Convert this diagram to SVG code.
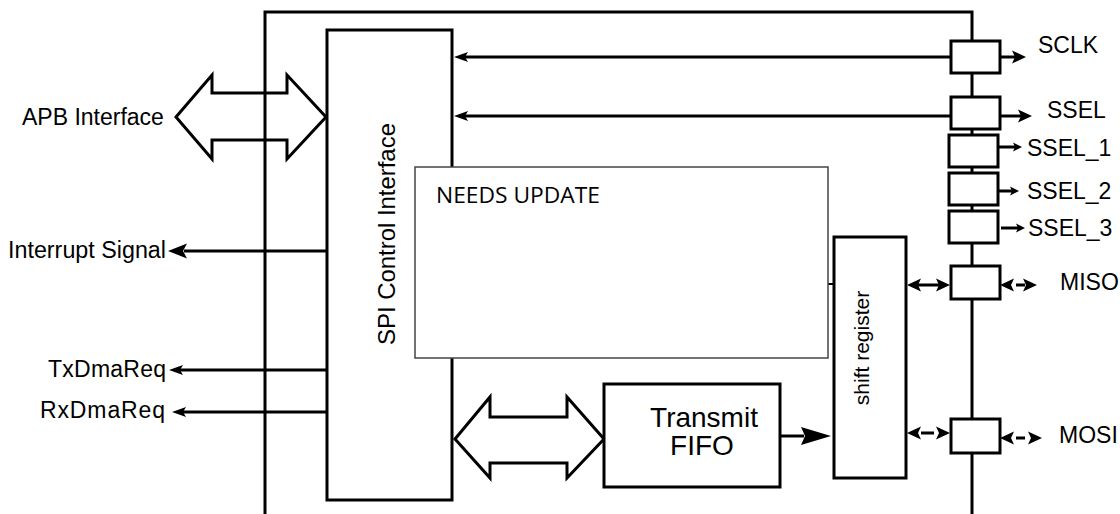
<svg xmlns="http://www.w3.org/2000/svg" width="1120" height="514" viewBox="0 0 1120 514">
<style>
.ln{stroke:#000;stroke-width:3;fill:none}
.box{stroke:#000;stroke-width:3;fill:#fff}
.lbl{font-family:"Liberation Sans",Arial,sans-serif;font-size:23px;fill:#000}
</style>
<defs>
<marker id="m-lg" markerUnits="userSpaceOnUse" markerWidth="30" markerHeight="18" refX="3" refY="9" orient="auto-start-reverse" overflow="visible"><path d="M0,0 L30,9 L0,18 L4,9 z"/></marker>
<marker id="m-int" markerUnits="userSpaceOnUse" markerWidth="19" markerHeight="15" refX="3" refY="7.5" orient="auto-start-reverse" overflow="visible"><path d="M0,0 L19,7.5 L0,15 L4,7.5 z"/></marker>
<marker id="m-md" markerUnits="userSpaceOnUse" markerWidth="14" markerHeight="13" refX="3" refY="6.5" orient="auto-start-reverse" overflow="visible"><path d="M0,0 L14,6.5 L0,13 L3,6.5 z"/></marker>
<marker id="m-sm" markerUnits="userSpaceOnUse" markerWidth="14" markerHeight="10" refX="3" refY="5" orient="auto-start-reverse" overflow="visible"><path d="M0,0 L14,5 L0,10 L3,5 z"/></marker>
<marker id="m-xs" markerUnits="userSpaceOnUse" markerWidth="9" markerHeight="9" refX="2" refY="4.5" orient="auto-start-reverse" overflow="visible"><path d="M0,0 L9,4.5 L0,9 L2,4.5 z"/></marker>
</defs>

<g id="frame">
<polyline class="ln" points="265,514 265,12 972,12 972,514"/>
</g>

<g id="connectors">
<line class="ln" x1="951" y1="57" x2="465" y2="57" marker-end="url(#m-sm)"/>
<line class="ln" x1="951" y1="116" x2="465" y2="116" marker-end="url(#m-sm)"/>
<line class="ln" x1="1000" y1="57" x2="1015" y2="57" marker-end="url(#m-md)"/>
<line class="ln" x1="1000" y1="116" x2="1021" y2="116" marker-end="url(#m-md)"/>
<line class="ln" x1="998" y1="147" x2="1015" y2="147" marker-end="url(#m-xs)"/>
<line class="ln" x1="998" y1="191" x2="1012" y2="191" marker-end="url(#m-xs)"/>
<line class="ln" x1="1001" y1="228" x2="1018" y2="228" marker-end="url(#m-xs)"/>
<line class="ln" x1="918" y1="285" x2="939" y2="285" marker-start="url(#m-md)" marker-end="url(#m-md)"/>
<line class="ln" x1="1011" y1="285" x2="1026" y2="285" stroke-dasharray="0,5,9,100" marker-start="url(#m-md)" marker-end="url(#m-md)"/>
<line class="ln" x1="918" y1="433" x2="939" y2="433" stroke-dasharray="0,3,13,100" marker-start="url(#m-md)" marker-end="url(#m-md)"/>
<line class="ln" x1="1011" y1="438" x2="1031" y2="438" stroke-dasharray="0,5,9,100" marker-start="url(#m-md)" marker-end="url(#m-md)"/>
<line class="ln" x1="326" y1="251" x2="184" y2="251" marker-end="url(#m-int)"/>
<line class="ln" x1="326" y1="370" x2="180" y2="370" marker-end="url(#m-sm)"/>
<line class="ln" x1="326" y1="412" x2="183" y2="412" marker-end="url(#m-sm)"/>
<line class="ln" x1="780" y1="436" x2="804" y2="436" marker-end="url(#m-lg)"/>
<line class="ln" x1="828" y1="284" x2="834" y2="284" style="stroke-width:2"/>
<polygon class="ln" points="176,117 212,75 212,93 287,93 287,75 326,117 287,159 287,140 212,140 212,159"/>
<polygon class="ln" points="455,439 490,397 490,417 567,417 567,397 604,439 567,478 567,463 490,463 490,478"/>
</g>

<g id="apb-label"><text class="lbl" x="22" y="125">APB Interface</text></g>
<g id="irq-label"><text class="lbl" x="8" y="258" textLength="158" lengthAdjust="spacingAndGlyphs">Interrupt Signal</text></g>
<g id="tx-label"><text class="lbl" x="48" y="377" textLength="118" lengthAdjust="spacing">TxDmaReq</text></g>
<g id="rx-label"><text class="lbl" x="40" y="418" textLength="125" lengthAdjust="spacing">RxDmaReq</text></g>

<g id="spi-control">
<rect class="box" x="327" y="30" width="125" height="470"/>
<text class="lbl" transform="translate(395,234) rotate(-90)" text-anchor="middle" style="font-size:24px" textLength="222" lengthAdjust="spacing">SPI Control Interface</text>
</g>

<g id="needs-update">
<rect x="415" y="167" width="413" height="191" fill="#fff" stroke="#444" stroke-width="1.5"/>
<text x="436" y="203" style="font-family:'Open Sans','Noto Sans',sans-serif;font-size:21px;fill:#000" textLength="164" lengthAdjust="spacingAndGlyphs">NEEDS UPDATE</text>
</g>

<g id="shift-register">
<rect class="box" x="834" y="237" width="72" height="241"/>
<text class="lbl" transform="translate(869,348) rotate(-90)" text-anchor="middle" style="font-size:21px">shift register</text>
</g>

<g id="transmit-fifo">
<rect class="box" x="604" y="384" width="176" height="103"/>
<text class="lbl" x="704" y="427" text-anchor="middle" style="font-size:28px">Transmit</text>
<text class="lbl" x="702" y="455" text-anchor="middle" style="font-size:28px">FIFO</text>
</g>

<g id="pad-sclk"><rect class="box" x="951" y="41" width="49" height="32"/><text class="lbl" x="1038" y="53">SCLK</text></g>
<g id="pad-ssel"><rect class="box" x="951" y="97" width="49" height="32"/><text class="lbl" x="1047" y="118">SSEL</text></g>
<g id="pad-ssel1"><rect class="box" x="949" y="135" width="49" height="32"/><text class="lbl" x="1027" y="156">SSEL_1</text></g>
<g id="pad-ssel2"><rect class="box" x="949" y="173" width="49" height="32"/><text class="lbl" x="1027" y="199">SSEL_2</text></g>
<g id="pad-ssel3"><rect class="box" x="949" y="211" width="49" height="32"/><text class="lbl" x="1028" y="236">SSEL_3</text></g>
<g id="pad-miso"><rect class="box" x="951" y="266" width="49" height="33"/><text class="lbl" x="1060" y="290">MISO</text></g>
<g id="pad-mosi"><rect class="box" x="951" y="419" width="49" height="34"/><text class="lbl" x="1059" y="443">MOSI</text></g>
</svg>
